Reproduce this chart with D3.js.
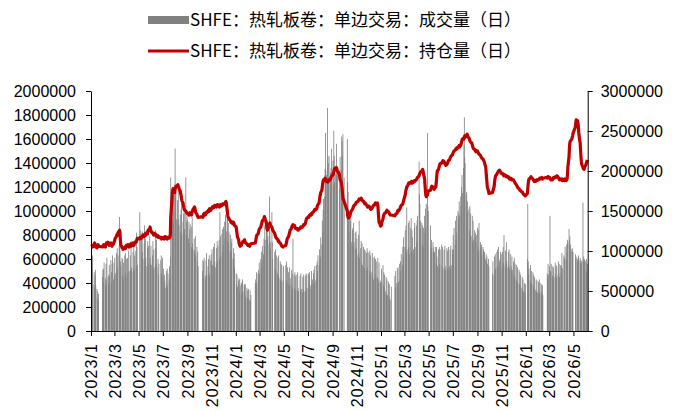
<!DOCTYPE html>
<html>
<head>
<meta charset="utf-8">
<script src="https://cdn.jsdelivr.net/npm/d3@7"></script>
<style>
  body { margin: 0; background: #fff; }
  text { font-family: "Liberation Sans", Arial, sans-serif; }
</style>
</head>
<body>
<div id="container"></div>
<script>
var width = 683,
    height = 412;

var margin = {left: 91, right: 96, top: 91, bottom: 81};

// exchange closed days (weekdays)
var holidays = [
  "2023-01-02","2023-01-23","2023-01-24","2023-01-25","2023-01-26","2023-01-27","2023-04-05",
  "2023-05-01","2023-05-02","2023-05-03","2023-06-22","2023-06-23","2023-09-29",
  "2023-10-02","2023-10-03","2023-10-04","2023-10-05","2023-10-06",
  "2024-01-01","2024-02-09","2024-02-12","2024-02-13","2024-02-14","2024-02-15","2024-02-16",
  "2024-04-04","2024-04-05","2024-05-01","2024-05-02","2024-05-03","2024-06-10",
  "2024-09-16","2024-09-17","2024-10-01","2024-10-02","2024-10-03","2024-10-04","2024-10-07",
  "2025-01-01","2025-01-28","2025-01-29","2025-01-30","2025-01-31","2025-02-03","2025-02-04",
  "2025-04-04","2025-05-01","2025-05-02","2025-05-05","2025-06-02",
  "2025-10-01","2025-10-02","2025-10-03","2025-10-06","2025-10-07","2025-10-08",
  "2026-01-01","2026-01-02","2026-02-16","2026-02-17","2026-02-18","2026-02-19","2026-02-20",
  "2026-02-23","2026-04-06","2026-05-01","2026-05-04","2026-05-05"
];

var firstDay = new Date(2023, 0, 3),
    lastDay = new Date(2026, 5, 5);

// 成交量, 万手, one line per month
var vol2023 = [
  44,52,63,39, 49,36,46,51,38, 35,27,33,25,31, 45,51,
  52,40,57,44,38, 56,42,61,45,39, 47,55,46,59,40, 49,56,63,43,57,
  46,61,48, 65,50,69,53,63, 71,95,75,58,54, 61,46,60,43,57, 63,48,65,45,60,
  61,48,67,50, 63,51,75,53,49, 66,52,73,50,63, 67,53,82,70,55,
  99,84, 78,62,83,66,60, 73,88,58,77,61, 54,69,75,56,71, 79,61,56,
  71,55, 63,75,51,68,53, 69,84,56,76,53, 60,47,56, 59,63,48,45,61,
  52,40,47,42,36, 50,39,52,37,48, 42,54,44,62,128, 115,93,111,90,113, 122,
  152,115,116,93, 109,89,118,93,88, 97,82,101,107,80, 91,98,82,100,85, 128,80,91,98,
  93, 77,91,73,85,89, 70,87,95,73,68, 77,67,64,79,62, 70,58,66,54,
  50,59,44,58,61, 46,43,59,65,47, 54,60,48,63,46, 59,64,
  58,68,55, 70,54,73,58,53, 69,56,75,58,71, 76,60,99,79,62, 81,66,85,72,
  87, 91,77,97,95,83, 93,75,90,73,82, 67,80,65,74,77, 60,69,61,65,53
];
var vol2024 = [
  48,39,47,37, 42,44,33,43,38, 40,32,41,43,33, 38,39,30,39,28, 36,27,34,
  28,35, 26,34,25,30, 40,43,35,49,40, 48,51,43,57,
  48, 60,53,66,58,71, 64,77,70,88,76, 83,90,92,76,79, 72,112,84,68,74,
  99,74,60, 66,52,68,50,63, 48,61,46,63,44, 58,43,56,41,55, 42,54,
  55,42,58,40,53, 49,38,53,39,44, 51,37,48,35,77, 47,36,49,34,46,
  47,34,49,36,33, 46,34,48,35, 32,45,35,47,33, 46,33,48,36,47,
  36,48,35,46,49, 38,35,50,40,43, 48,51,39,54,42, 55,44,58,50,63, 55,68,60,
  62,78, 72,92,82,101,110, 112,135,165,134,130, 186,145,140,122,146, 126,132,136,152,124,
  142,122,167,146,124, 131,130,156,126,132, 118,134,145, 134,162,158,146,164, 128,
  160,124,116,92, 98,82,92,94,74, 84,86,70,90,74, 82,68,83,69,
  77, 63,80,65,92,61, 69,75,57,73,55, 70,53,68,52,67, 65,50,69,53,66,
  65,50,67,47,63, 49,65,45,61,43, 62,47,60,44,58, 45,61,43,40,57, 42,40
];
var vol2025 = [
  52,41, 55,38,49,36,47, 33,45,31,43,30, 41,29,39,27,26, 37,
  46,36,50, 40,52,38,53,41, 56,43,58,50,64, 55,70,62,78,70,
  84,70,88,66,103, 68,90,70,92,64, 86,94,66,84,78, 68,64,86,90,70, 88,
  74,92,96, 141,114,106,86,92, 90,72,88,70,86, 96,82,102,86,106, 165,104,100,
  88,70,76,68, 74,66,70,64,66, 70,56,70,62,54, 68,52,70,56,68,
  72,54,70,52, 68,52,71,54,50, 69,52,67,51,70, 54,68,52,71,55, 68,
  64,80,68,86, 72,92,76,96,82, 100,94,98,108,96, 112,104,120,130,115, 136,155,178,145,
  140, 114,116,98,108,100, 102,84,104,80,98, 79,96,74,92,76, 84,78,82,74,80,
  86,70,84,66,90, 68,74,70,72,64, 70,68,66,62,66, 60,64,58,62,56, 60,54,
  48,58, 46,62,50,64,52, 66,53,68,55,70, 58,60,66,52,64,
  66,55,70,57,80, 54,67,56,74,58, 53,66,55,68,52, 64,54,50,62,51,
  58,47,61,45,56, 43,55,41,53,40, 51,39,49,38,47, 36,45,34,43,33, 40,32,39
];
var vol2026 = [
  60,106,58,47,52, 42,55,40,50,39, 49,38,47,36,45, 34,43,33,42,32,
  41,33,43,31,40, 32,39,29,38,30, 48,45,56,47,
  54,96,50,49,56, 46,54,43,53,45, 57,47,55,44,54, 46,58,48,56,45, 55,48,
  54,65,52, 63,60,61,70, 59,72,66,76,74, 85,76,79,66,72, 68,69,66,66,
  64,60,62, 58,60,61,63,59, 61,57,59,56,58, 107,58,62,60,59,
  58,50,60,48,56
];

// 持仓量, 万手, one line per month
var oi2023 = [
  106,107,105,106, 108,110,109,107,105, 104,106,107,108,106, 105,106,
  107,108,106,105,107, 108,110,109,111,110, 108,107,109,110,108, 107,106,108,109,111,
  112,114,116, 118,120,119,121,123, 125,126,124,115,108, 105,104,103,102,103, 104,105,103,106,107,
  106,108,107,105, 107,109,108,106,108, 110,109,107,108,110, 112,111,113,115,116,
  115,117, 116,118,117,119,120, 118,120,121,119,122, 123,121,124,126,125, 128,130,127,
  126,124, 122,123,121,120,122, 120,121,119,120,118, 119,117,118, 116,117,115,116,117,
  116,117,115,116,118, 117,116,115,117,116, 116,118,117,121,142, 165,172,176,178,175, 173,
  177,179,180,181, 182,183,181,180,178, 175,172,170,166,163, 160,157,154,152,151, 150,149,148,147,
  147, 146,145,147,148,146, 145,147,149,150,152, 154,155,153,150,148, 146,144,143,142,
  143,142,144,146,147, 145,146,148,147,149, 150,151,149,152,153, 151,152,
  153,154,155, 154,156,155,157,156, 155,157,156,158,157, 156,155,157,158,156, 157,158,159,158,
  158, 159,160,161,162,160, 148,144,142,141,140, 138,137,136,137,135, 134,136,135,133,132
];
var oi2024 = [
  130,126,122,118, 114,111,108,107,106, 107,109,110,111,112, 113,114,112,111,110, 109,108,107,
  107,108, 106,107,108,109, 110,112,115,118,120, 121,123,125,127,
  128, 130,132,134,136,138, 139,141,143,142,140, 135,130,127,126,128, 131,134,135,133,131,
  130,128,126, 122,120,119,117,116, 115,114,112,113,111, 110,109,108,107,106, 105,106,
  107,109,111,114,116, 118,120,122,124,126, 128,130,131,132,133, 131,132,130,129,128,
  128,127,128,126,127, 128,129,130,129, 130,131,132,133,132, 134,136,138,140,141,
  142,143,142,144,145, 146,145,147,146,148, 149,150,151,152,151, 152,153,155,157,158, 160,164,168,
  170,173, 176,180,184,187,189, 190,191,190,188,187, 188,186,187,189,188, 189,190,192,193,194,
  195,197,199,201,203, 204,203,204,202,200, 196,192,189, 186,182,178,172,166, 162,
  150,145,142,141, 143,145,147,149,150, 152,153,155,156,157, 158,159,160,161,
  161, 162,163,164,165,164, 165,166,165,164,163, 162,161,160,159,160, 158,157,156,155,156,
  156,155,154,153,152, 153,154,155,156,157, 158,159,160,159,158, 160,157,150,142,136, 133,131
];
var oi2025 = [
  132,136, 140,143,145,146,147, 148,149,150,151,150, 149,148,147,146,145, 145,
  144,145,146, 147,148,150,151,150, 152,153,155,156,157, 158,159,161,163,165,
  170,174,176,178,180, 182,184,185,184,185, 186,185,187,186,185, 186,187,188,187,188, 189,
  190,191,192, 194,196,197,198,199, 200,201,202,200,197, 190,182,175,170,168, 170,172,175,
  176,178,180,181, 180,179,178,177,178, 180,184,190,196,200, 202,204,206,208,209,
  210,211,212,213, 212,210,209,208,207, 208,209,210,212,213, 214,216,217,218,219, 220,
  222,223,224,225, 226,227,228,227,229, 230,229,231,232,230, 232,234,236,238,240, 241,240,242,244,
  242, 244,245,246,245,243, 241,240,238,237,236, 235,233,231,229,228, 227,226,225,226,224,
  225,224,223,222,221, 220,219,218,217,216, 215,214,213,212,210, 205,198,192,186,180, 175,172,
  173,175, 180,185,189,192,194, 196,197,198,199,200, 201,200,199,198,197,
  197,196,195,196,194, 195,194,193,194,193, 192,193,192,191,190, 191,190,189,190,189,
  189,188,187,186,185, 183,182,181,180,179, 178,177,176,176,175, 174,174,173,172,171, 170,169,169
];
var oi2026 = [
  172,178,184,188,190, 191,192,193,192,191, 190,189,188,187,188, 187,188,189,188,189,
  189,190,190,191,190, 191,192,191,190,191, 192,191,193,192,
  192,191,190,189,190, 189,190,191,192,191, 192,193,192,193,194, 193,192,191,190,189, 190,189,
  189,190,188, 189,188,190,189, 188,189,190,195,205, 218,230,235,237,238, 240,242,244,247,
  255,260,264, 263,262,258,252,245, 235,226,218,212,208, 205,203,204,202,205,
  207,209,210,212,214
];

var legendLabels = ["SHFE：热轧板卷：单边交易：成交量（日）", "SHFE：热轧板卷：单边交易：持仓量（日）"];
var leftTicks = d3.range(0, 2000001, 200000);
var rightTicks = d3.range(0, 3000001, 500000);
var xTicks = d3.timeMonth.every(2).range(new Date(2023, 0, 1), new Date(2026, 5, 1));

// trading calendar
var fmtKey = d3.timeFormat("%Y-%m-%d");
var holidaySet = new Set(holidays);
var days = d3.timeDay.range(firstDay, d3.timeDay.offset(lastDay, 1)).filter(function(d) {
    return d.getDay() != 0 && d.getDay() != 6 && !holidaySet.has(fmtKey(d));
});
var vol = vol2023.concat(vol2024, vol2025, vol2026);
var oi = oi2023.concat(oi2024, oi2025, oi2026);
var n = Math.min(days.length, vol.length, oi.length);
var data = [];
for (var i = 0; i < n; i++) {
    data.push({date: days[i], vol: vol[i] * 10000, oi: oi[i] * 10000});
}

var svg = d3.select("#container").append("svg")
    .attr("width", width)
    .attr("height", height);

var x = d3.scaleTime()
    .domain([new Date(2023, 0, 1), new Date(2026, 5, 6)])
    .range([margin.left, width - margin.right + 0.7]);
var yL = d3.scaleLinear().domain([0, 2000000]).range([height - margin.bottom, margin.top]);
var yR = d3.scaleLinear().domain([0, 3000000]).range([height - margin.bottom, margin.top]);

// bars
svg.append("g")
  .selectAll("rect")
  .data(data)
  .enter()
  .append("rect")
    .attr("x", function(d) { return x(d.date) - 0.4; })
    .attr("width", 0.8)
    .attr("y", function(d) { return yL(d.vol); })
    .attr("height", function(d) { return yL(0) - yL(d.vol); })
    .attr("fill", "#7f7f7f");

// open interest line
var line = d3.line()
    .x(function(d) { return x(d.date); })
    .y(function(d) { return yR(d.oi); });

svg.append("path")
    .datum(data)
    .attr("fill", "none")
    .attr("stroke", "#c00000")
    .attr("stroke-width", 3.2)
    .attr("stroke-linejoin", "round")
    .attr("d", line);

// axes
var axisLeft = svg.append("g")
    .attr("transform", "translate(" + margin.left + ",0)")
    .call(d3.axisLeft(yL).tickValues(leftTicks).tickFormat(d3.format("d")).tickSize(5).tickSizeOuter(0).tickPadding(10));

var axisRight = svg.append("g")
    .attr("transform", "translate(" + (width - margin.right + 0.7) + ",0)")
    .call(d3.axisRight(yR).tickValues(rightTicks).tickFormat(d3.format("d")).tickSize(5).tickSizeOuter(0).tickPadding(8));

var axisBottom = svg.append("g")
    .attr("transform", "translate(0," + (height - margin.bottom) + ")")
    .call(d3.axisBottom(x).tickValues(xTicks).tickFormat(d3.timeFormat("%Y/%-m")).tickSize(5).tickSizeOuter(0));

axisBottom.selectAll("text")
    .attr("transform", "rotate(-90)")
    .attr("x", -12)
    .attr("y", 0)
    .attr("dy", "0.36em")
    .style("text-anchor", "end")
    .style("letter-spacing", "1.1px");

[axisLeft, axisRight, axisBottom].forEach(function(g) {
    g.selectAll("text")
        .style("font-family", "'Liberation Sans', Arial, sans-serif")
        .style("font-size", "16px")
        .attr("fill", "#000");
    g.selectAll("line, path").attr("stroke", "#000");
});

// legend
var legend = svg.append("g");
legend.append("rect")
    .attr("x", 148).attr("y", 16).attr("width", 41).attr("height", 8)
    .attr("fill", "#808080");
legend.append("line")
    .attr("x1", 148).attr("x2", 189).attr("y1", 51).attr("y2", 51)
    .attr("stroke", "#c00000").attr("stroke-width", 3);

legend.selectAll("text")
    .data(legendLabels)
    .enter()
    .append("text")
      .attr("x", 190)
      .attr("y", function(d, i) { return 20 + i * 31; })
      .attr("dy", "0.35em")
      .style("font-family", "'Noto Sans CJK SC', sans-serif")
      .style("font-size", "17px")
      .attr("fill", "#000")
      .text(function(d) { return d; });
</script>
</body>
</html>
